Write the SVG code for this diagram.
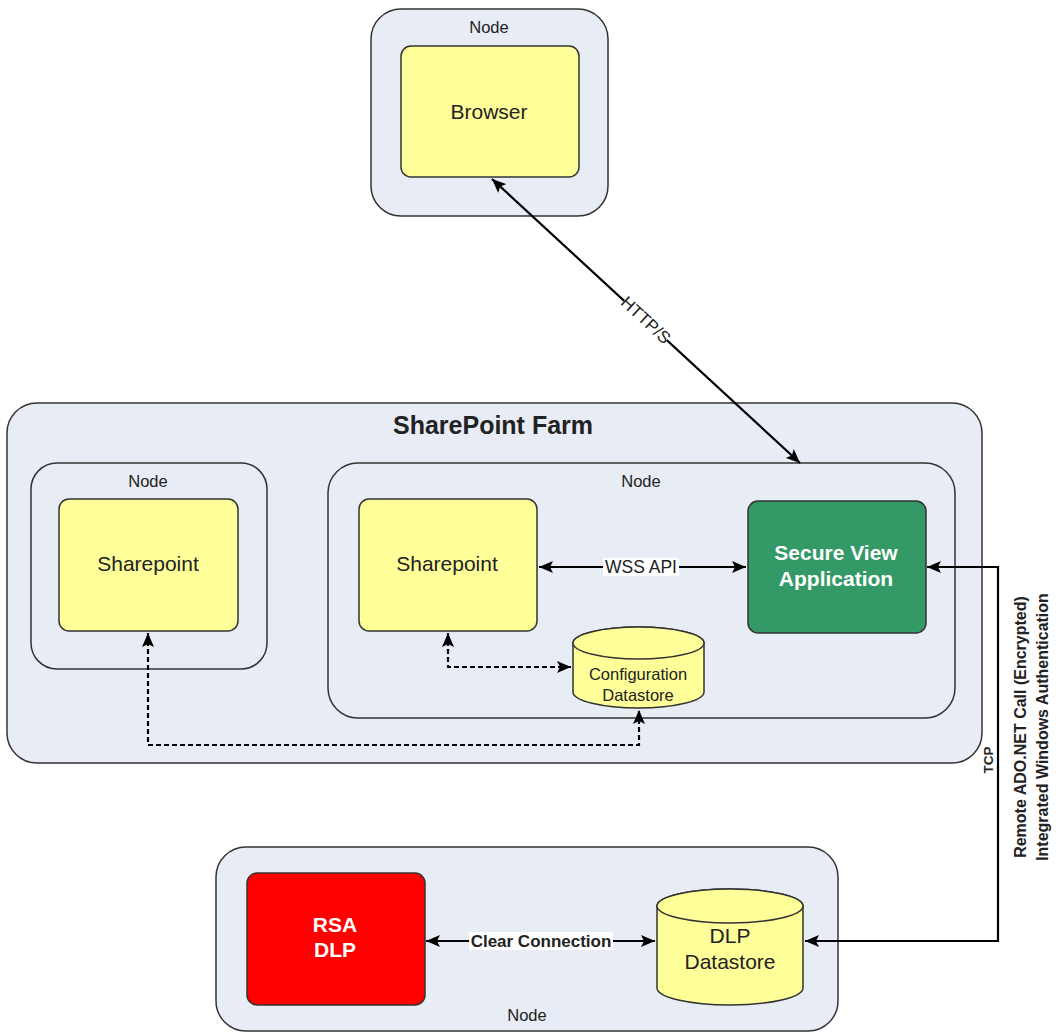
<svg xmlns="http://www.w3.org/2000/svg" width="1056" height="1034" viewBox="0 0 1056 1034">
<defs>
<style>
.cont{fill:#e8ecf5;stroke:#333;stroke-width:1.5}
.yel{fill:#ffff99;stroke:#333;stroke-width:1.5}
.t{font-family:"Liberation Sans",Arial,sans-serif;fill:#222;text-anchor:middle}
.node{font-size:16.5px}
.lbl{font-size:21px}
.b{font-weight:bold}
.w{fill:#fff}
.conn{fill:none;stroke:#000;stroke-width:2.2}
.dash{stroke-dasharray:5 3}
</style>
<marker id="ah" viewBox="0 0 14 12" refX="14" refY="6" markerWidth="14" markerHeight="12" orient="auto-start-reverse" markerUnits="userSpaceOnUse">
<path d="M0,0 L14,6 L0,12 L3,6 Z" fill="#000"/>
</marker>
</defs>
<rect width="1056" height="1034" fill="#fff"/>

<g id="browser-node">
<rect class="cont" x="371" y="9" width="237" height="207" rx="30"/>
<text class="t node" x="489" y="33">Node</text>
</g>
<g id="browser">
<rect class="yel" x="401" y="46" width="178" height="131" rx="10"/>
<text class="t lbl" x="489" y="119">Browser</text>
</g>

<g id="sharepoint-farm">
<rect class="cont" x="7" y="403" width="975" height="360" rx="30"/>
<text class="t b" x="493" y="434" font-size="25">SharePoint Farm</text>
</g>

<g id="left-node">
<rect class="cont" x="31" y="463" width="236" height="206" rx="26"/>
<text class="t node" x="148" y="487">Node</text>
</g>
<g id="sharepoint-1">
<rect class="yel" x="59" y="499" width="179" height="132" rx="10"/>
<text class="t lbl" x="148" y="571">Sharepoint</text>
</g>

<g id="right-node">
<rect class="cont" x="328" y="463" width="627" height="255" rx="30"/>
<text class="t node" x="641" y="487">Node</text>
</g>
<g id="sharepoint-2">
<rect class="yel" x="359" y="499" width="178" height="132" rx="10"/>
<text class="t lbl" x="447" y="571">Sharepoint</text>
</g>
<g id="secure-view">
<rect x="748" y="501" width="178" height="132" rx="10" fill="#339966" stroke="#333" stroke-width="1.5"/>
<text class="t lbl b w" x="836" y="560">Secure View</text>
<text class="t lbl b w" x="836" y="586">Application</text>
</g>
<g id="config-datastore">
<path class="yel" d="M573,643 A65.5,16 0 0 1 704,643 L704,692 A65.5,16 0 0 1 573,692 Z"/>
<ellipse class="yel" cx="638.5" cy="643" rx="65.5" ry="16"/>
<text class="t" font-size="16.5" x="638" y="680">Configuration</text>
<text class="t" font-size="16.5" x="638" y="701">Datastore</text>
</g>

<g id="dlp-node">
<rect class="cont" x="216" y="847" width="622" height="184" rx="30"/>
<text class="t node" x="527" y="1021">Node</text>
</g>
<g id="rsa-dlp">
<rect x="247" y="873" width="178" height="132" rx="10" fill="#ff0000" stroke="#333" stroke-width="1.5"/>
<text class="t lbl b w" x="335" y="932">RSA</text>
<text class="t lbl b w" x="335" y="957">DLP</text>
</g>
<g id="dlp-datastore">
<path class="yel" d="M657,906 A73,17 0 0 1 803,906 L803,988 A73,17 0 0 1 657,988 Z"/>
<ellipse class="yel" cx="730" cy="906" rx="73" ry="17"/>
<text class="t lbl" x="730" y="943">DLP</text>
<text class="t lbl" x="730" y="969">Datastore</text>
</g>

<g id="connectors">
<path class="conn" d="M492,179 L800,463" marker-start="url(#ah)" marker-end="url(#ah)"/>
<path class="conn" d="M539,567 L746,567" marker-start="url(#ah)" marker-end="url(#ah)"/>
<path class="conn" d="M927,567 H998 V941 H805" marker-start="url(#ah)" marker-end="url(#ah)"/>
<path class="conn" d="M426,941 L655,941" marker-start="url(#ah)" marker-end="url(#ah)"/>
<path class="conn dash" d="M448,633 V667 H571" marker-start="url(#ah)" marker-end="url(#ah)"/>
<path class="conn dash" d="M148,633 V745 H639 V710" marker-start="url(#ah)" marker-end="url(#ah)"/>

<g transform="translate(646,320) rotate(42.8)">
<rect x="-29" y="-10" width="58" height="19" fill="#fff"/>
<text class="t" font-size="17" x="0" y="6">HTTP/S</text>
</g>
<rect x="603" y="558" width="76" height="18" fill="#fff"/>
<text class="t" font-size="17.5" x="641" y="573">WSS API</text>
<rect x="469" y="932" width="144" height="18" fill="#fff"/>
<text class="t b" font-size="17" x="541" y="947">Clear Connection</text>
<text class="t b" font-size="13.5" transform="translate(993,760) rotate(-90)">TCP</text>
<text class="t b" font-size="16" transform="translate(1026,727) rotate(-90)">Remote ADO.NET Call (Encrypted)</text>
<text class="t b" font-size="16" transform="translate(1048,727) rotate(-90)">Integrated Windows Authentication</text>
</g>
</svg>
